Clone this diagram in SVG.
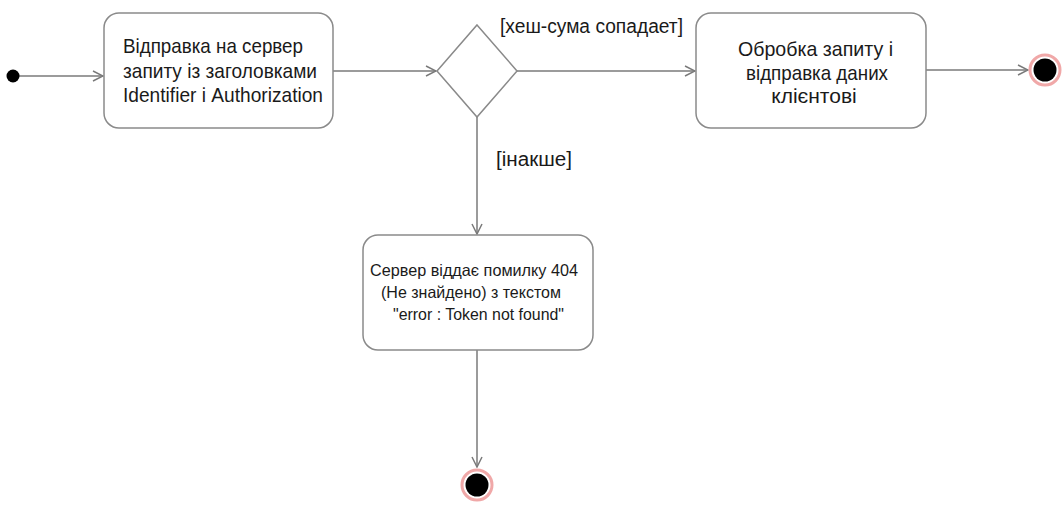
<svg xmlns="http://www.w3.org/2000/svg" width="1062" height="508" viewBox="0 0 1062 508">
<defs>
<style>
.box{fill:#fff;stroke:#8a8a8a;stroke-width:1.5}
.ln{fill:none;stroke:#7a7a7a;stroke-width:1.5}
.t{font-family:"Liberation Sans",Arial,sans-serif;fill:#1a1a1a}
.big{font-size:21px}
.lbl{font-size:20px}
.sm{font-size:16.5px}
.endo{fill:#fff;stroke:#f0a8a8;stroke-width:3}
</style>
<marker id="arr" viewBox="0 0 12 12" refX="11" refY="6" markerWidth="12" markerHeight="12" markerUnits="userSpaceOnUse" orient="auto">
<path d="M1,1 L11,6 L1,11" fill="none" stroke="#7a7a7a" stroke-width="1.5"/>
</marker>
</defs>
<rect width="1062" height="508" fill="#fff"/>
<g id="connectors">
<line class="ln" x1="13" y1="76" x2="103" y2="76" marker-end="url(#arr)"/>
<line class="ln" x1="333" y1="71" x2="436" y2="71" marker-end="url(#arr)"/>
<line class="ln" x1="517" y1="71" x2="695" y2="71" marker-end="url(#arr)"/>
<line class="ln" x1="926" y1="70" x2="1028" y2="70" marker-end="url(#arr)"/>
<line class="ln" x1="477" y1="117" x2="477" y2="234" marker-end="url(#arr)"/>
<line class="ln" x1="477" y1="350" x2="477" y2="467" marker-end="url(#arr)"/>
<text class="t lbl" x="500" y="33" textLength="183" lengthAdjust="spacingAndGlyphs">[хеш-сума сопадает]</text>
<text class="t lbl" x="496" y="166" textLength="76" lengthAdjust="spacingAndGlyphs">[інакше]</text>
</g>
<g id="start">
<circle cx="13" cy="76" r="6.5" fill="#000"/>
</g>
<g id="send">
<rect class="box" x="104" y="13" width="229" height="115" rx="15"/>
<text class="t big" x="123" y="53" textLength="180" lengthAdjust="spacingAndGlyphs">Відправка на сервер</text>
<text class="t big" x="123" y="78" textLength="194" lengthAdjust="spacingAndGlyphs">запиту із заголовками</text>
<text class="t big" x="123" y="102" textLength="200" lengthAdjust="spacingAndGlyphs">Identifier і Authorization</text>
</g>
<g id="decision">
<polygon points="477,25 517,71 477,117 437,71" fill="#fff" stroke="#8a8a8a" stroke-width="1.5"/>
</g>
<g id="process">
<rect class="box" x="696" y="13" width="230" height="115" rx="15"/>
<text class="t big" x="738" y="56" textLength="155" lengthAdjust="spacingAndGlyphs">Обробка запиту і</text>
<text class="t big" x="746" y="80" textLength="142" lengthAdjust="spacingAndGlyphs">відправка даних</text>
<text class="t big" x="814" y="103" text-anchor="middle">клієнтові</text>
</g>
<g id="end1">
<circle class="endo" cx="1045" cy="70" r="15"/>
<circle cx="1045" cy="70" r="11.5" fill="#000"/>
</g>
<g id="error">
<rect class="box" x="363" y="235" width="230" height="115" rx="15"/>
<text class="t sm" x="370" y="276" textLength="208" lengthAdjust="spacingAndGlyphs">Сервер віддає помилку 404</text>
<text class="t sm" x="381" y="298" textLength="180" lengthAdjust="spacingAndGlyphs">(Не знайдено) з текстом</text>
<text class="t sm" x="393" y="320" textLength="171" lengthAdjust="spacingAndGlyphs">"error : Token not found"</text>
</g>
<g id="end2">
<circle class="endo" cx="477" cy="485" r="15"/>
<circle cx="477" cy="485" r="11.5" fill="#000"/>
</g>
</svg>
